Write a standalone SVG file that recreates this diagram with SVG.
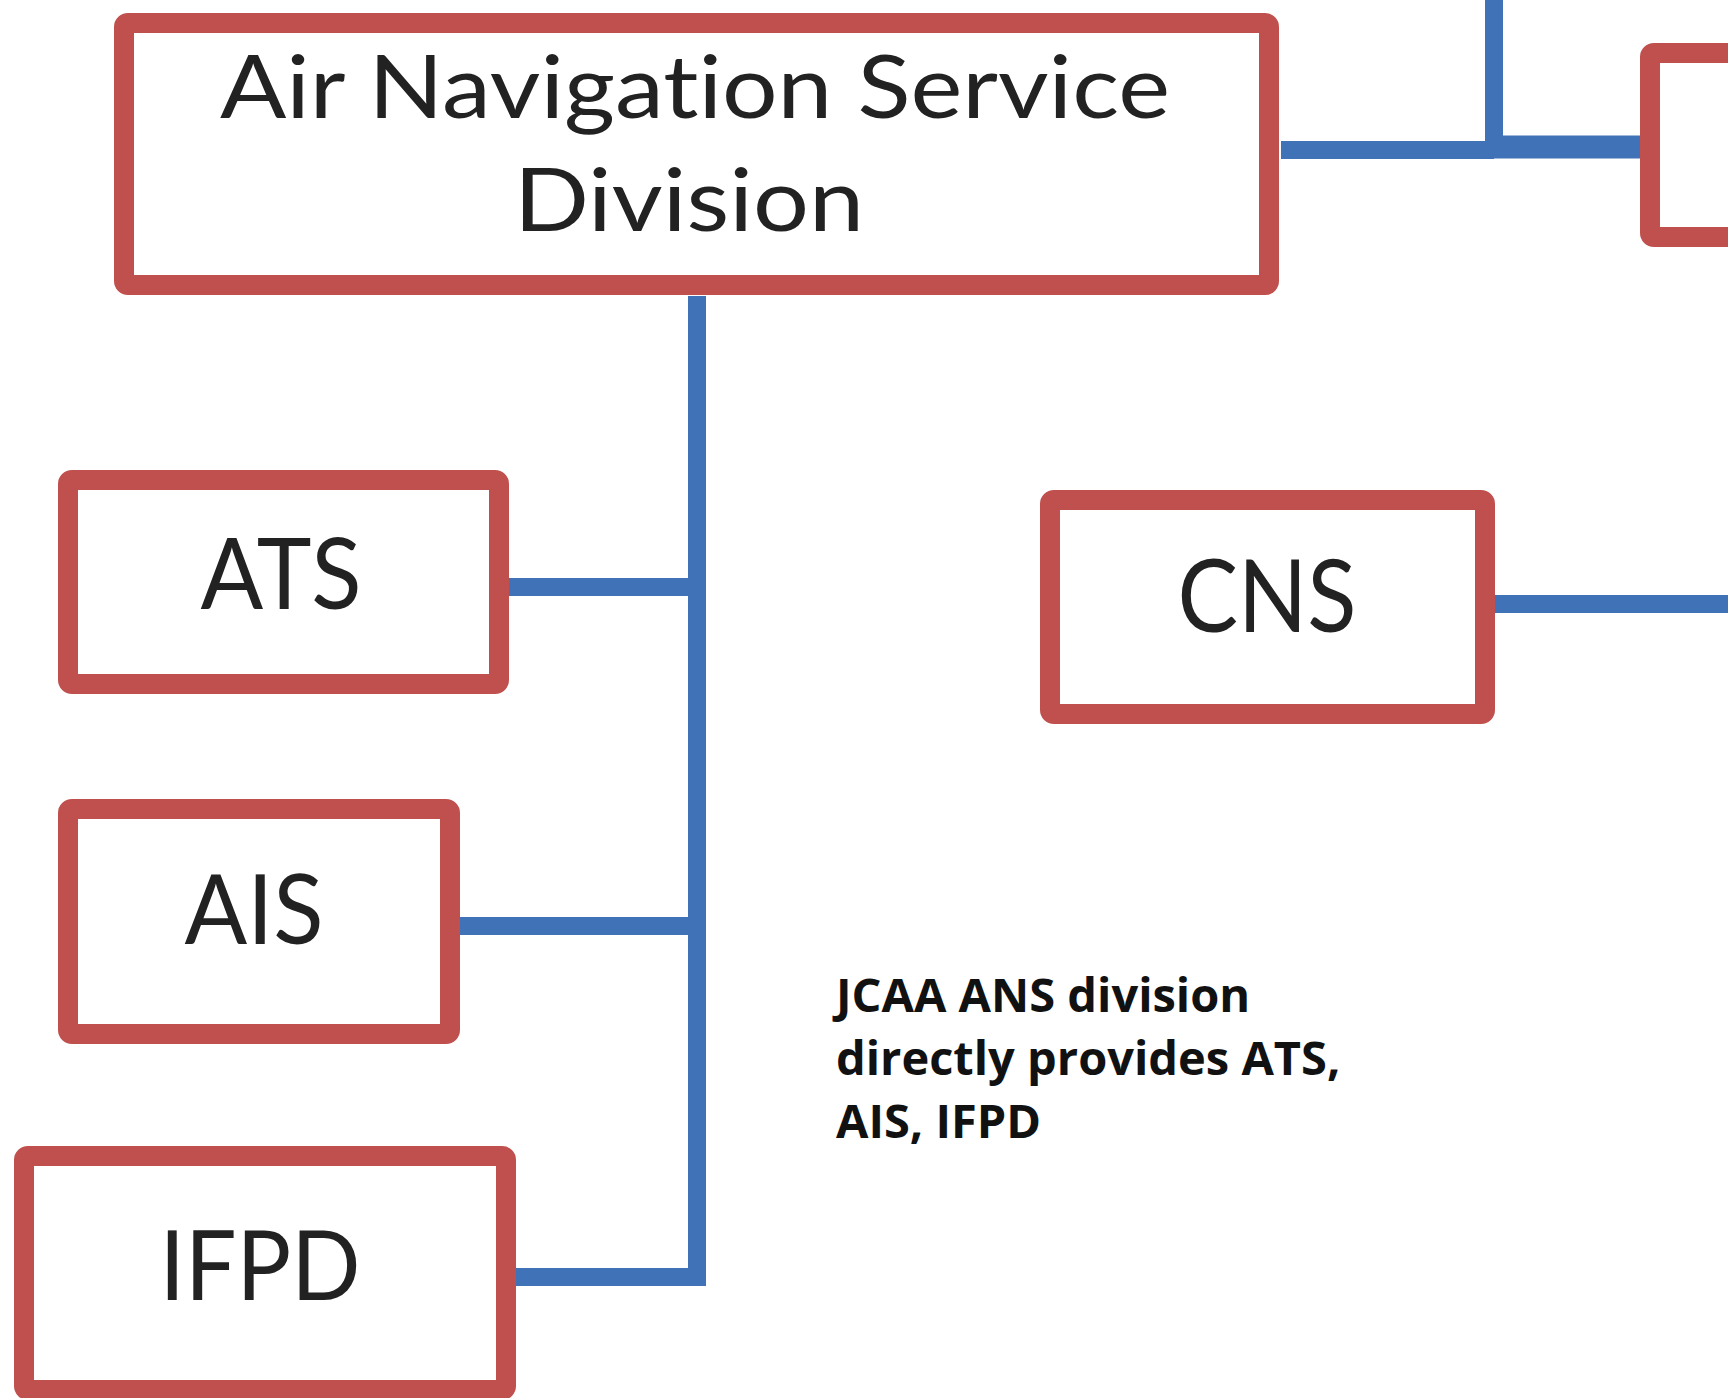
<svg xmlns="http://www.w3.org/2000/svg" width="1728" height="1398" viewBox="0 0 1728 1398">
<style>
.box{fill:#ffffff;stroke:#C0504D;stroke-width:20;}
.lbl{font-family:Lato,"Liberation Sans",sans-serif;fill:#222222;text-anchor:middle;font-variant-ligatures:none;font-feature-settings:"liga" 0;}
.con{fill:none;stroke:#3F72B6;stroke-width:18;stroke-linecap:butt;stroke-linejoin:miter;}
.note{font-family:"Open Sans","Noto Sans",sans-serif;font-weight:bold;font-size:47px;fill:#111111;}
</style>
<rect width="1728" height="1398" fill="#ffffff"/>
<g id="connectors">
<path class="con" d="M1494 0 V150"/>
<path class="con" d="M1281 150 H1494"/>
<path class="con" d="M1485 147 H1645" style="stroke-width:23"/>
<path class="con" d="M697 296 V1277 H506"/>
<path class="con" d="M509 587 H697"/>
<path class="con" d="M460 926 H697"/>
<path class="con" d="M1495 604 H1728"/>
</g>
<g id="node-ans">
<rect class="box" x="124" y="23" width="1145" height="262" rx="4"/>
<text class="lbl" x="695" y="118" font-size="88" textLength="950" lengthAdjust="spacingAndGlyphs">Air Navigation Service</text>
<text class="lbl" x="689" y="231" font-size="88" textLength="350" lengthAdjust="spacingAndGlyphs">Division</text>
</g>
<g id="node-right">
<rect class="box" x="1650" y="53" width="200" height="184" rx="4"/>
</g>
<g id="node-ats">
<rect class="box" x="68" y="480" width="431" height="204" rx="4"/>
<text class="lbl" x="281" y="609" font-size="98" textLength="161" lengthAdjust="spacingAndGlyphs">ATS</text>
</g>
<g id="node-ais">
<rect class="box" x="68" y="809" width="382" height="225" rx="4"/>
<text class="lbl" x="254" y="944" font-size="96" textLength="139" lengthAdjust="spacingAndGlyphs">AIS</text>
</g>
<g id="node-ifpd">
<rect class="box" x="24" y="1156" width="482" height="234" rx="4"/>
<text class="lbl" x="260" y="1300" font-size="96" textLength="201" lengthAdjust="spacingAndGlyphs">IFPD</text>
</g>
<g id="node-cns">
<rect class="box" x="1050" y="500" width="435" height="214" rx="4"/>
<text class="lbl" x="1267" y="632" font-size="100" textLength="179" lengthAdjust="spacingAndGlyphs">CNS</text>
</g>
<g id="note">
<text class="note" x="836" y="1012">JCAA ANS division</text>
<text class="note" x="836" y="1075">directly provides ATS,</text>
<text class="note" x="836" y="1138">AIS, IFPD</text>
</g>
</svg>
